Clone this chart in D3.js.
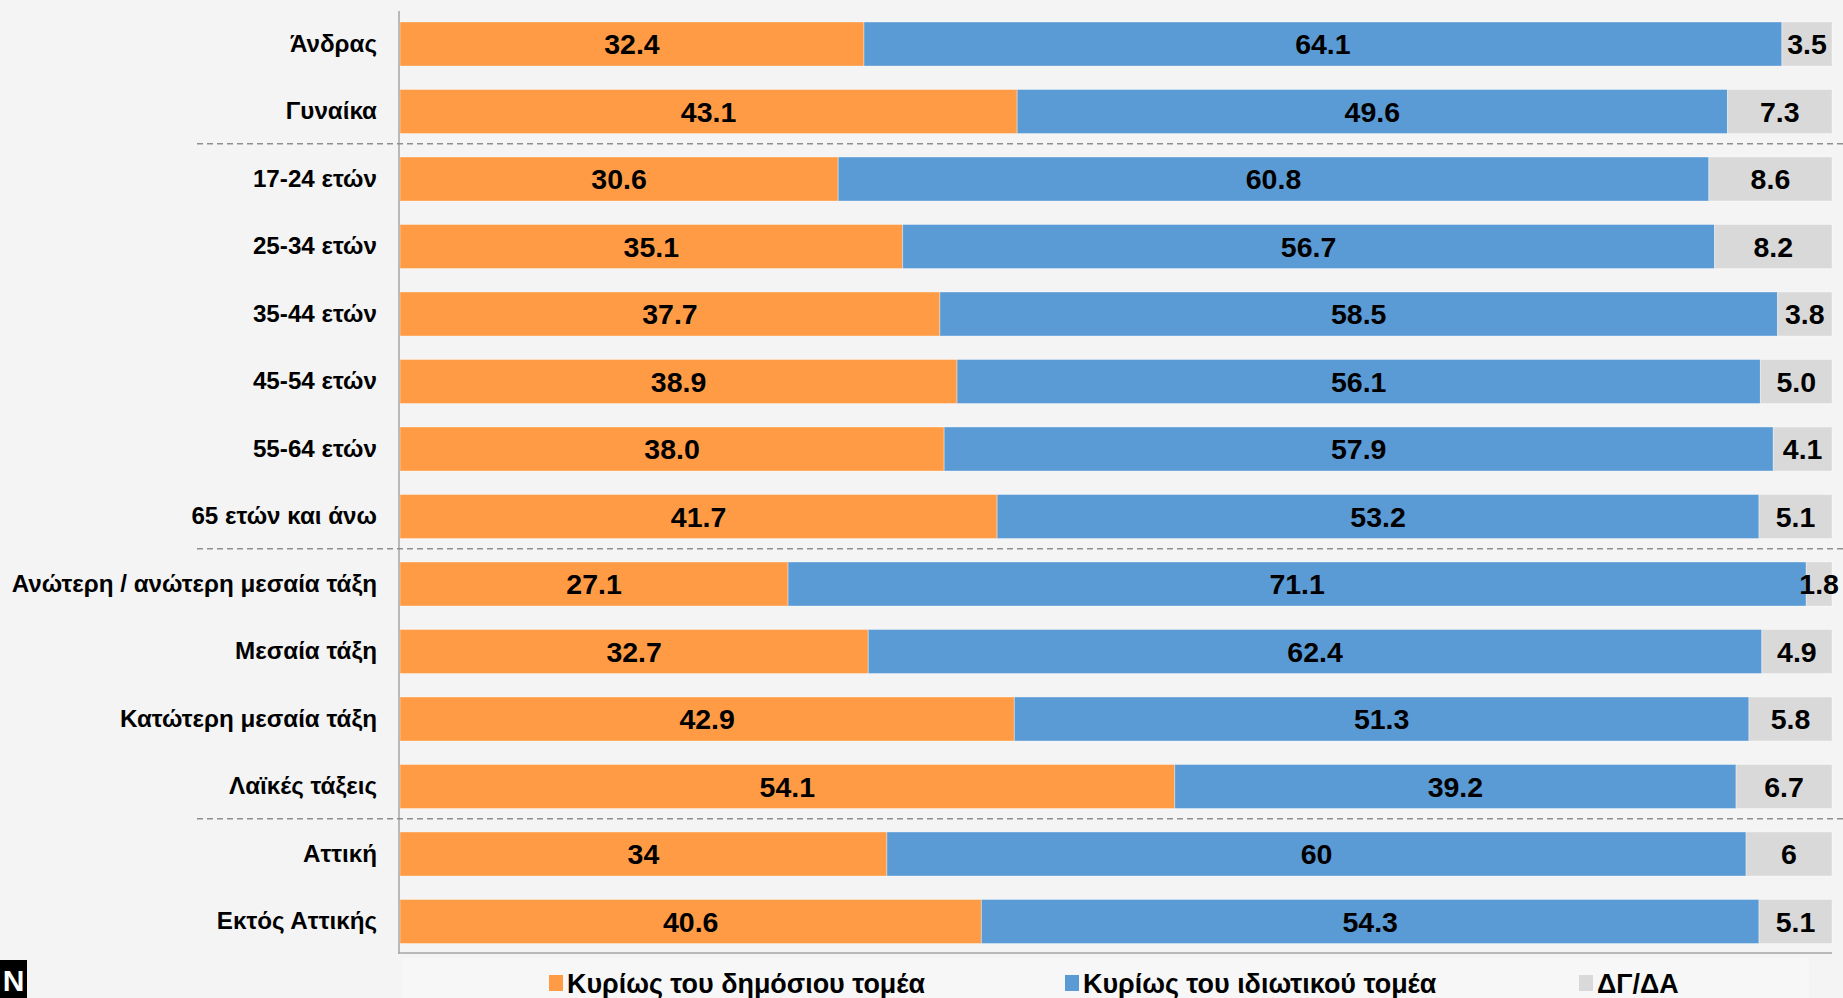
<!DOCTYPE html>
<html>
<head>
<meta charset="utf-8">
<script src="https://cdn.jsdelivr.net/npm/d3@7"></script>
<style>
  html, body { margin: 0; padding: 0; background: #f4f4f4; }
  svg { display: block; }
  text { font-family: "Liberation Sans", Arial, sans-serif; font-weight: bold; fill: #000; }
</style>
</head>
<body>
<svg id="chart" width="1843" height="998"></svg>
<script>
const categories = [
  "Άνδρας", "Γυναίκα", "17-24 ετών", "25-34 ετών", "35-44 ετών", "45-54 ετών",
  "55-64 ετών", "65 ετών και άνω", "Ανώτερη / ανώτερη μεσαία τάξη", "Μεσαία τάξη",
  "Κατώτερη μεσαία τάξη", "Λαϊκές τάξεις", "Αττική", "Εκτός Αττικής"
];
const publicSector  = [32.4, 43.1, 30.6, 35.1, 37.7, 38.9, 38.0, 41.7, 27.1, 32.7, 42.9, 54.1, 34, 40.6];
const privateSector = [64.1, 49.6, 60.8, 56.7, 58.5, 56.1, 57.9, 53.2, 71.1, 62.4, 51.3, 39.2, 60, 54.3];
const dontKnow      = [3.5, 7.3, 8.6, 8.2, 3.8, 5.0, 4.1, 5.1, 1.8, 4.9, 5.8, 6.7, 6, 5.1];
const labelDecimals = [1, 1, 1, 1, 1, 1, 1, 1, 1, 1, 1, 1, 0, 1];
const seriesNames = ["Κυρίως του δημόσιου τομέα", "Κυρίως του ιδιωτικού τομέα", "ΔΓ/ΔΑ"];
const seriesColors = ["#ff9b45", "#5b9bd5", "#d9d9d9"];
// group separators drawn after these categories
const separatorsAfter = ["Γυναίκα", "65 ετών και άνω", "Λαϊκές τάξεις"];

const svg = d3.select("#chart");

const x = d3.scaleLinear().domain([0, 100]).range([400, 1832]);
const y = d3.scaleBand().domain(categories).range([22, 943.5]).paddingInner(0.348).paddingOuter(0);

const rows = categories.map((c, i) => ({
  cat: c, dec: labelDecimals[i],
  vals: [publicSector[i], privateSector[i], dontKnow[i]]
}));

const seg = [];
rows.forEach(r => {
  let acc = 0;
  r.vals.forEach((v, k) => {
    seg.push({cat: r.cat, k, v, x0: acc, x1: acc + v, dec: r.dec});
    acc += v;
  });
});

// bars
svg.append("g").selectAll("rect").data(seg).join("rect")
  .attr("x", d => x(d.x0))
  .attr("y", d => y(d.cat))
  .attr("width", d => x(d.x1) - x(d.x0))
  .attr("height", y.bandwidth())
  .attr("fill", d => seriesColors[d.k])
  .attr("stroke", "rgba(255,255,255,0.35)")
  .attr("stroke-width", 1);

// value labels
svg.append("g").selectAll("text").data(seg).join("text")
  .attr("x", d => (x(d.x0) + x(d.x1)) / 2)
  .attr("y", d => y(d.cat) + y.bandwidth() / 2)
  .attr("dy", "0.36em")
  .attr("text-anchor", "middle")
  .style("font-size", "28.5px")
  .text(d => d.v.toFixed(d.dec));

// y axis (category labels)
const yAxis = d3.axisLeft(y).tickSize(0).tickPadding(22);
const gy = svg.append("g").attr("transform", "translate(399,0)").call(yAxis);
gy.select(".domain").remove();
gy.selectAll("text").style("font-size", "24.2px").style("font-family", "\"Liberation Sans\", Arial, sans-serif").attr("fill", "#000");

// axis lines
svg.append("line").attr("x1", 399).attr("x2", 399).attr("y1", 11).attr("y2", 953.5)
  .attr("stroke", "#a6a6a6").attr("stroke-width", 1.5);
svg.append("line").attr("x1", 398).attr("x2", x(100)).attr("y1", 953).attr("y2", 953)
  .attr("stroke", "#a6a6a6").attr("stroke-width", 1.5);

// dashed separators
svg.append("g").selectAll("line").data(separatorsAfter).join("line")
  .attr("x1", 197).attr("x2", 1843)
  .attr("y1", d => y(d) + y.bandwidth() + y.step() * y.paddingInner() / 2 - 1.5)
  .attr("y2", d => y(d) + y.bandwidth() + y.step() * y.paddingInner() / 2 - 1.5)
  .attr("stroke", "#8f8f8f").attr("stroke-width", 1.3).attr("stroke-dasharray", "6,4");

// legend panel
svg.append("rect").attr("x", 402).attr("y", 958).attr("width", 1407).attr("height", 40).attr("fill", "#f7f7f7");
const legendX = [549, 1065, 1579];
const lg = svg.append("g").selectAll("g").data(seriesNames).join("g")
  .attr("transform", (d, i) => `translate(${legendX[i]},983)`);
lg.append("rect").attr("x", 0).attr("y", -8).attr("width", 14).attr("height", 16)
  .attr("fill", (d, i) => seriesColors[i]);
lg.append("text").attr("x", 18).attr("dy", "0.36em").style("font-size", "26.9px").text(d => d);

// logo
svg.append("rect").attr("x", 0).attr("y", 960).attr("width", 27).attr("height", 38).attr("fill", "#000");
svg.append("text").attr("x", 13.5).attr("y", 991).attr("text-anchor", "middle")
  .style("font-size", "30px").style("fill", "#fff").text("N");
</script>
</body>
</html>
